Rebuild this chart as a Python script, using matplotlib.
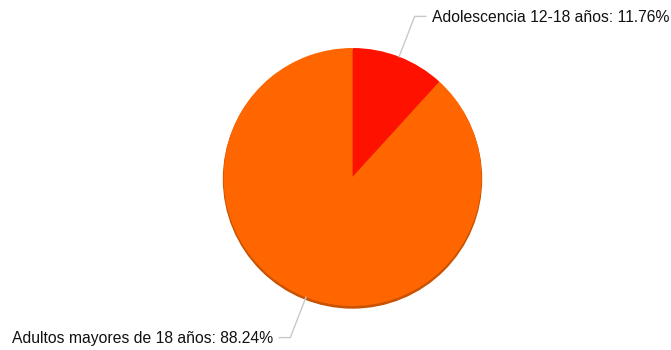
import matplotlib.pyplot as plt
import matplotlib.patches as mpatches
import numpy as np

labels = ['Adolescencia 12-18 años', 'Adultos mayores de 18 años']
shares = [11.76, 88.24]
colors = ['#FF1100', '#FF6600']

W, H = 671, 350
cx, cy = 352.5, 350 - 177
radius = 129

fig = plt.figure(figsize=(W / 100, H / 100), dpi=100)
ax = fig.add_axes([0, 0, 1, 1])

# Soft shadow under the pie
ax.add_patch(mpatches.Circle((cx, cy - 2), radius, color='#C85200', zorder=0))

ax.pie(shares, colors=colors, startangle=90, counterclock=False,
       center=(cx, cy), radius=radius, wedgeprops=dict(linewidth=0))

ax.set_xlim(0, W)
ax.set_ylim(0, H)
ax.set_aspect('auto')
ax.axis('off')

# Leader lines and labels at each slice's mid-angle
start = 0.0
total = sum(shares)
for lab, val in zip(labels, shares):
    mid = (start + val / 2) / total * 2 * np.pi
    start += val
    sx, sy = np.sin(mid), np.cos(mid)
    p0 = (cx + sx * radius, cy + sy * radius)
    p1 = (cx + sx * radius * 1.335, cy + sy * radius * 1.335)
    side = 1 if sx >= 0 else -1
    p2 = (p1[0] + side * 11, p1[1])
    ax.plot([p0[0], p1[0], p2[0]], [p0[1], p1[1], p2[1]],
            color='#C8C8C8', linewidth=1, zorder=1)
    ax.text(p2[0] + side * 6, p2[1] - 1, f'{lab}: {val:.2f}%',
            ha='left' if side > 0 else 'right', va='center',
            fontsize=11.3, family='Liberation Sans', color='#111111')

fig.savefig('out.png', dpi=100)
